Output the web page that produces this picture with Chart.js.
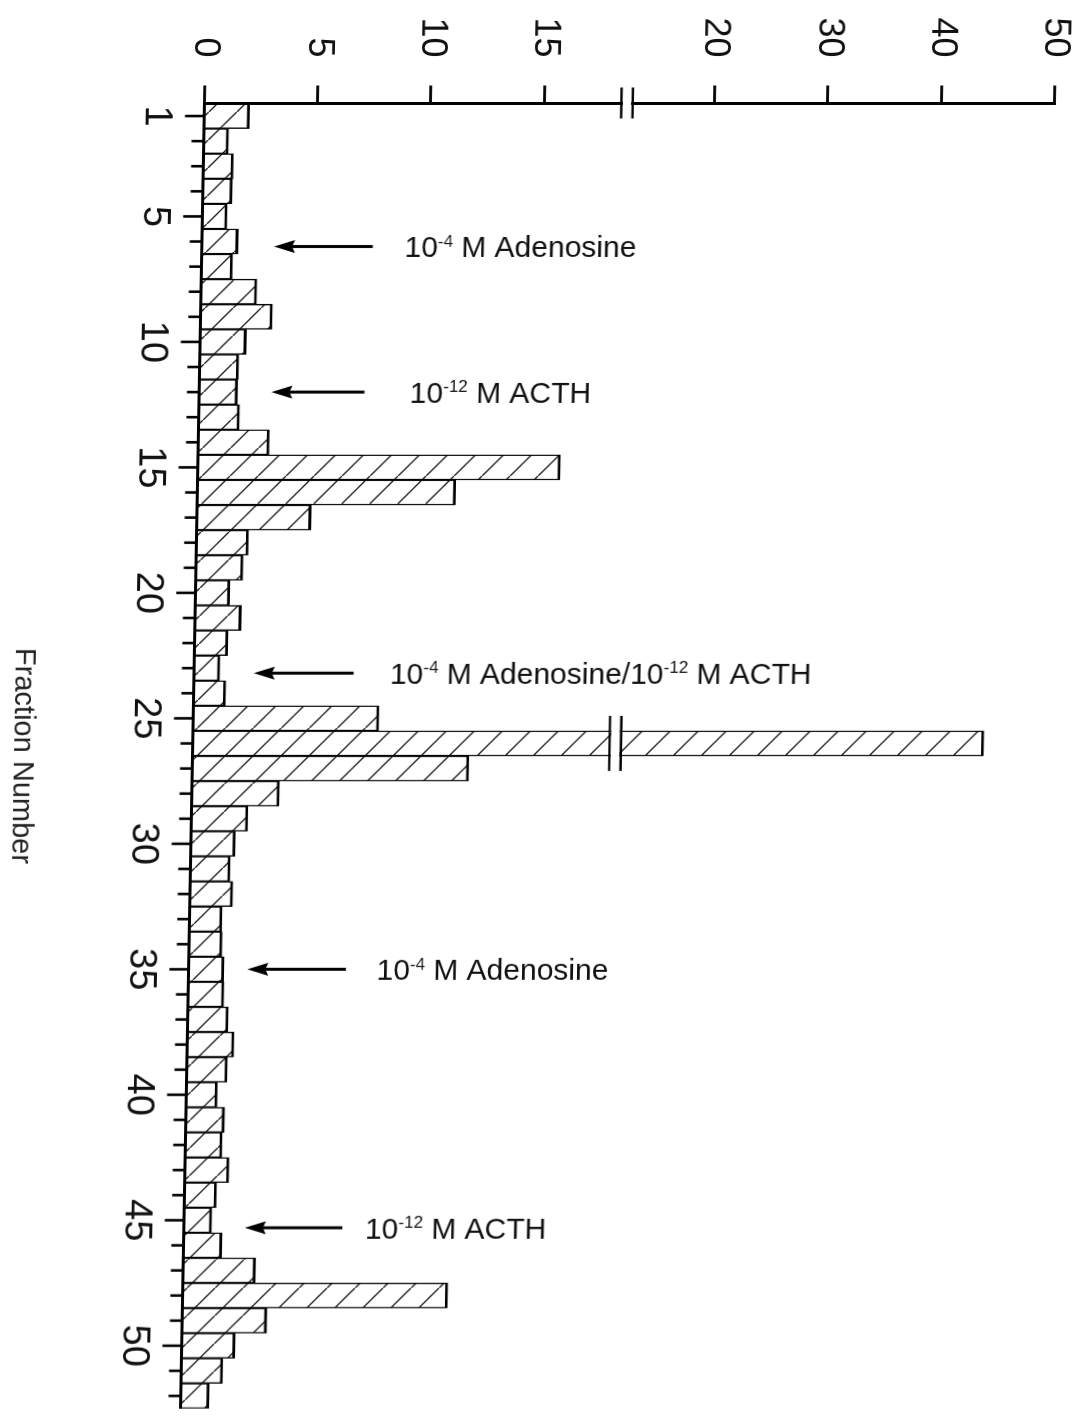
<!DOCTYPE html>
<html>
<head>
<meta charset="utf-8">
<title>Fraction Number</title>
<script src="https://cdn.jsdelivr.net/npm/chart.js@4.4.1/dist/chart.umd.min.js"></script>
<style>
    html, body { margin: 0; padding: 0; background: #fff; overflow: hidden; }
    /* the figure is printed sideways and the scan is a little sheared */
    #page { position: relative; width: 1077px; height: 1421px; transform-origin: 0 101px; transform: skewX(-1.05deg); }
    #chart { position: absolute; left: 0; top: 0; transform-origin: 0 0; transform: translateX(1077px) rotate(90deg); }
</style>
</head>
<body>
<div id="page"><canvas id="chart" width="1421" height="1077"></canvas></div>
<script>
/*global Chart*/
var fractions = ['1', '2', '3', '4', '5', '6', '7', '8', '9', '10',
    '11', '12', '13', '14', '15', '16', '17', '18', '19', '20',
    '21', '22', '23', '24', '25', '26', '27', '28', '29', '30',
    '31', '32', '33', '34', '35', '36', '37', '38', '39', '40',
    '41', '42', '43', '44', '45', '46', '47', '48', '49', '50',
    '51', '52'];
var labeledFractions = ['1', '5', '10', '15', '20', '25', '30', '35', '40', '45', '50'];
var release = [2.0, 1.1, 1.33, 1.3, 1.1, 1.6, 1.37, 2.47, 3.17, 2.04,
    1.73, 1.7, 1.8, 3.14, 16.0, 11.4, 5.04, 2.3, 2.08, 1.52,
    2.04, 1.47, 1.14, 1.42, 8.2, 44.8, 12.2, 3.87, 2.5, 1.96,
    1.76, 1.89, 1.44, 1.46, 1.56, 1.58, 1.79, 2.07, 1.79, 1.37,
    1.71, 1.63, 1.95, 1.42, 1.23, 1.7, 3.2, 11.7, 3.74, 2.36,
    1.84, 1.25];
var valueTicks = [0, 5, 10, 15, 20, 30, 40, 50];

// treatments marked with arrows
var notes = ['10^-4 M Adenosine', '10^-12 M ACTH', '10^-4 M Adenosine/10^-12 M ACTH',
    '10^-4 M Adenosine', '10^-12 M ACTH'];
var noteFractions = [6.2, 12, 23.2, 35, 45.3];

// arrow placement, in axis units
var arrowHead = [3.2, 3.2, 2.65, 2.6, 2.7];
var arrowTail = [7.55, 7.3, 7.05, 6.95, 7.0];
var noteStart = [8.95, 9.3, 8.65, 8.3, 8.0];

var FONT = '"Liberation Sans", Arial, Helvetica, sans-serif';
var BREAK_LO = 18.4, BREAK_HI = 18.9;

// broken value axis: 0-18.9 full scale, 20-50 at half scale
function toAxis(v) {
    return v <= BREAK_HI ? v : 22.5 + (v - 20) / 2;
}

function makeHatch() {
    var tile = document.createElement('canvas');
    tile.width = 28;
    tile.height = 28;
    var c = tile.getContext('2d');
    c.fillStyle = '#fff';
    c.fillRect(0, 0, 28, 28);
    c.strokeStyle = '#1a1a1a';
    c.lineWidth = 1.3;
    c.beginPath();
    c.moveTo(-2, -2);
    c.lineTo(30, 30);
    c.stroke();
    return c.createPattern(tile, 'repeat');
}

function line(ctx, x1, y1, x2, y2) {
    ctx.beginPath();
    ctx.moveTo(x1, y1);
    ctx.lineTo(x2, y2);
    ctx.stroke();
}

// "10^-4 M ..." -> superscript exponent
function drawRich(ctx, text, x, y) {
    var parts = text.split(/\^(-?\d+)/);
    for (var i = 0; i < parts.length; i++) {
        var sup = i % 2 === 1;
        ctx.font = (sup ? 17 : 30) + 'px ' + FONT;
        ctx.fillText(parts[i], x, sup ? y - 10.5 : y);
        x += ctx.measureText(parts[i]).width;
    }
}

var paperPlugin = {
    id: 'paper',
    afterDraw: function (chart) {
        var ctx = chart.ctx;
        var xs = chart.scales.x, ys = chart.scales.y;
        ctx.save();
        ctx.strokeStyle = '#000';
        ctx.fillStyle = '#000';
        ctx.lineWidth = 2.6;

        // fraction ticks, long ones where labelled
        for (var i = 0; i < fractions.length; i++) {
            var px = xs.getPixelForTick(i);
            var len = labeledFractions.indexOf(fractions[i]) >= 0 ? 19 : 12;
            line(ctx, px, xs.top, px, xs.top + len);
        }

        // axis break
        var yA = ys.getPixelForValue(BREAK_LO), yB = ys.getPixelForValue(BREAK_HI);
        ctx.fillStyle = '#fff';
        ctx.fillRect(ys.right - 4, yB + 1.5, 8, yA - yB - 3);
        ctx.lineWidth = 2.4;
        line(ctx, ys.right - 16, yA, ys.right + 15, yA);
        line(ctx, ys.right - 16, yB, ys.right + 15, yB);

        // break through the tall bar(s)
        var meta = chart.getDatasetMeta(0);
        meta.data.forEach(function (bar, k) {
            if (release[k] <= BREAK_HI) {
                return;
            }
            var p = bar.getProps(['x', 'width'], true);
            ctx.fillStyle = '#fff';
            ctx.fillRect(p.x - p.width / 2 - 1, yB + 1.5, p.width + 2, yA - yB - 3);
            line(ctx, p.x - p.width / 2 - 15, yA, p.x + p.width / 2 + 15, yA);
            line(ctx, p.x - p.width / 2 - 15, yB, p.x + p.width / 2 + 15, yB);
        });

        // arrows and treatment labels, written across the fractions
        var base = ys.getPixelForValue(0);
        notes.forEach(function (text, k) {
            var cx = xs.getPixelForValue(noteFractions[k] - 1);
            var along = function (v) { return base - ys.getPixelForValue(v); };
            var head = along(arrowHead[k]), tail = along(arrowTail[k]);
            ctx.save();
            ctx.translate(cx, base);
            ctx.rotate(-Math.PI / 2);
            ctx.strokeStyle = '#000';
            ctx.fillStyle = '#000';
            ctx.lineWidth = 3;
            line(ctx, tail, 0, head + 14, 0);
            ctx.beginPath();
            ctx.moveTo(head, 0);
            ctx.lineTo(head + 21, -6.5);
            ctx.lineTo(head + 18, 0);
            ctx.lineTo(head + 21, 6.5);
            ctx.closePath();
            ctx.fill();
            ctx.fillStyle = '#111';
            ctx.textBaseline = 'alphabetic';
            ctx.textAlign = 'left';
            drawRich(ctx, text, along(noteStart[k]), 10.6);
            ctx.restore();
        });
        ctx.restore();
    }
};

new Chart(document.getElementById('chart'), {
    type: 'bar',
    data: {
        labels: fractions,
        datasets: [{
            data: release.map(toAxis),
            backgroundColor: makeHatch(),
            borderColor: '#000',
            borderWidth: { left: 1.4, right: 1.4, top: 2.8, bottom: 0 },
            borderSkipped: 'start',
            categoryPercentage: 1,
            barPercentage: 1
        }]
    },
    options: {
        responsive: false,
        animation: false,
        devicePixelRatio: 1,
        layout: { padding: { top: 22.6, right: 12.3, bottom: 0, left: 0 } },
        plugins: { legend: { display: false }, tooltip: { enabled: false } },
        scales: {
            x: {
                type: 'category',
                offset: true,
                grid: { display: false, drawTicks: true, tickLength: 19 },
                border: { display: true, color: '#000', width: 3, z: 1 },
                ticks: {
                    autoSkip: false,
                    minRotation: 0,
                    maxRotation: 0,
                    padding: 6,
                    color: '#111',
                    font: { family: FONT, size: 38 },
                    callback: function (value, index) {
                        var f = fractions[index];
                        return labeledFractions.indexOf(f) >= 0 ? f : '';
                    }
                },
                title: {
                    display: true,
                    text: 'Fraction Number',
                    color: '#222',
                    font: { family: FONT, size: 29 },
                    padding: { top: 0, bottom: 17 }
                },
                afterFit: function (scale) {
                    scale.height = 204.3;
                    scale.paddingLeft = 0;
                    scale.paddingRight = 0;
                }
            },
            y: {
                type: 'linear',
                min: 0,
                max: toAxis(50),
                grid: { drawOnChartArea: false, drawTicks: true, tickLength: 18, tickWidth: 2.8, tickColor: '#000' },
                border: { display: true, color: '#000', width: 3, z: 1 },
                ticks: {
                    padding: 28,
                    color: '#111',
                    font: { family: FONT, size: 36, lineHeight: 1 },
                    callback: function (value, index) { return String(valueTicks[index]); }
                },
                afterBuildTicks: function (scale) {
                    scale.ticks = valueTicks.map(function (v) { return { value: toAxis(v) }; });
                },
                afterFit: function (scale) {
                    scale.width = 103.5;
                    scale.paddingTop = 0;
                    scale.paddingBottom = 0;
                }
            }
        }
    },
    plugins: [paperPlugin]
});
</script>
</body>
</html>
